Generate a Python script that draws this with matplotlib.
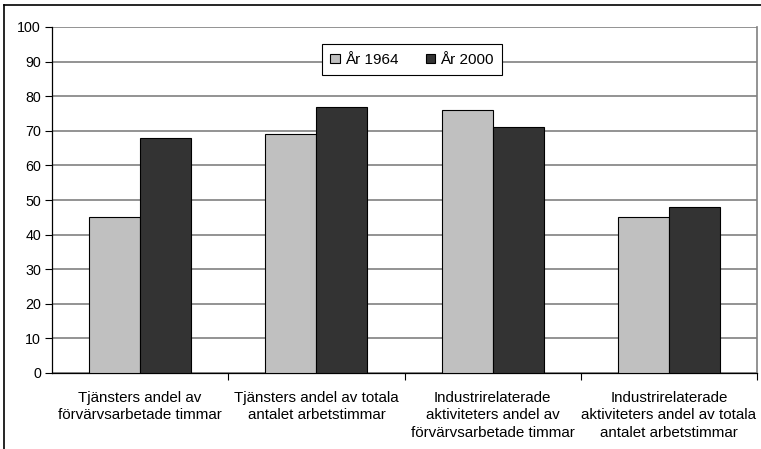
import matplotlib
matplotlib.use("Agg")
import matplotlib.pyplot as plt
from matplotlib.lines import Line2D
import numpy as np

plt.rcParams['font.family'] = ['Liberation Sans', 'DejaVu Sans']

categories = ["Tjänsters andel av\nförvärvsarbetade timmar",
              "Tjänsters andel av totala\nantalet arbetstimmar",
              "Industrirelaterade\naktiviteters andel av\nförvärvsarbetade timmar",
              "Industrirelaterade\naktiviteters andel av totala\nantalet arbetstimmar"]
series_names = ["År 1964", "År 2000"]
values_1964 = [45, 69, 76, 45]
values_2000 = [68, 77, 71, 48]
yticks = list(range(0, 101, 10))

fig = plt.figure(figsize=(7.61, 4.49), dpi=100)
ax = fig.add_axes([52/761, 1-373/449, (757-52)/761, (373-27)/449])

x = np.arange(len(categories))
w = 0.29
ax.bar(x - w/2, values_1964, w, color="#C0C0C0", edgecolor="black", linewidth=0.8, label=series_names[0], zorder=3)
ax.bar(x + w/2, values_2000, w, color="#333333", edgecolor="black", linewidth=0.8, label=series_names[1], zorder=3)

ax.set_xlim(-0.5, len(categories) - 0.5)
ax.set_ylim(0, 100)
ax.set_yticks(yticks)
ax.tick_params(axis='y', labelsize=10.3, length=5, width=0.8, direction='out', pad=3)
ax.yaxis.grid(True, color="#808080", linewidth=1.2, zorder=0)
ax.set_axisbelow(True)

ax.set_xticks(x)
ax.set_xticklabels(categories, fontsize=10.9, linespacing=1.3)
ax.tick_params(axis='x', length=0, pad=13)
ax.set_xticks(np.arange(0.5, len(categories) - 0.4, 1), minor=True)
ax.tick_params(axis='x', which='minor', length=5, width=0.8, direction='out')

ax.spines['top'].set_visible(False)
ax.spines['right'].set_color("#808080")
ax.spines['right'].set_linewidth(1.2)
ax.spines['left'].set_linewidth(0.9)
ax.spines['bottom'].set_linewidth(0.9)

leg = ax.legend(loc='center', bbox_to_anchor=(0.511, 0.905), ncol=2, fontsize=11,
                frameon=True, fancybox=False, edgecolor='black', framealpha=1,
                handlelength=0.6, handleheight=0.6, handletextpad=0.35, columnspacing=1.8,
                borderpad=0.55)
leg.get_frame().set_linewidth(0.8)

# figure border (top and left)
fig.add_artist(Line2D([4/761, 1], [1-5/449, 1-5/449], color='black', linewidth=1.2, transform=fig.transFigure))
fig.add_artist(Line2D([4/761, 4/761], [0, 1-5/449], color='black', linewidth=1.2, transform=fig.transFigure))

fig.savefig("out.png", dpi=100)
